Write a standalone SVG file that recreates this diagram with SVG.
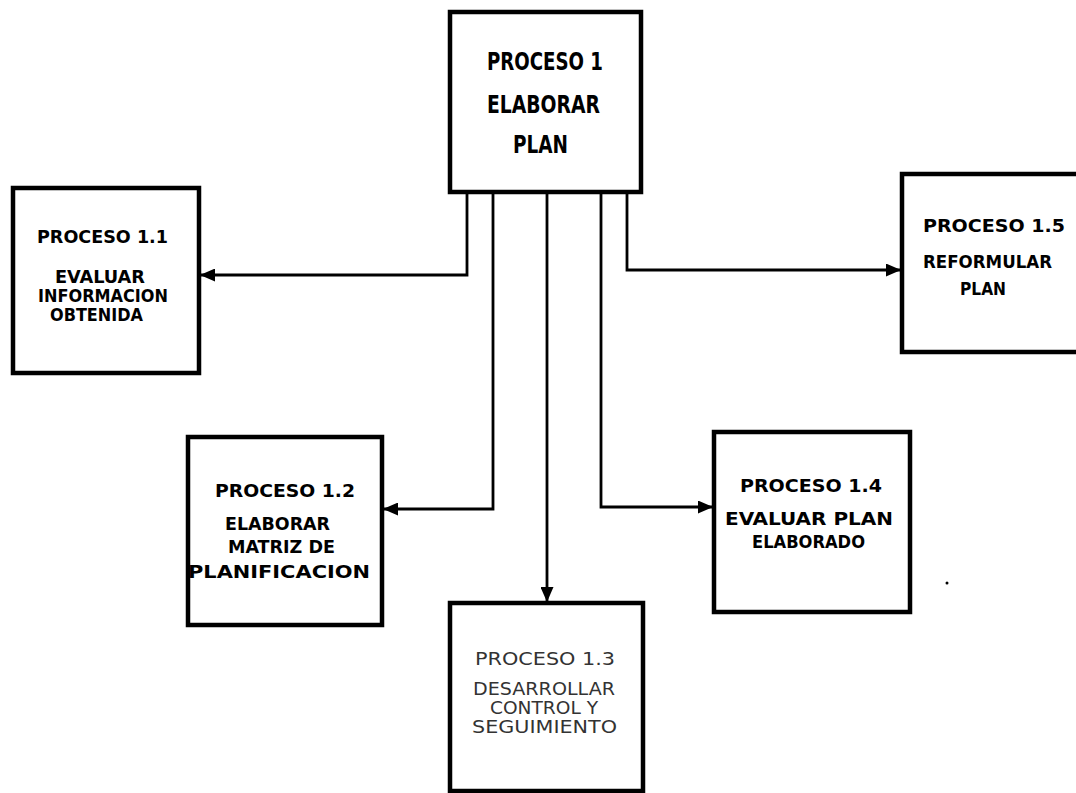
<svg xmlns="http://www.w3.org/2000/svg" width="1076" height="793" viewBox="0 0 1076 793">
<style>
.box{fill:#fff;stroke:#000;stroke-width:4.5}
.t{font-family:"DejaVu Sans Condensed","DejaVu Sans","Liberation Sans",sans-serif;font-weight:bold;font-size:18px;fill:#000}
.tb{font-size:24px}
.faded{fill:#333;font-weight:normal}
.c{fill:none;stroke:#000;stroke-width:2.8}
</style>
<defs>
<marker id="ah" markerUnits="userSpaceOnUse" markerWidth="15" markerHeight="13" refX="14" refY="6.5" orient="auto">
<path d="M0,0 L15,6.5 L0,13 z" fill="#000"/>
</marker>
</defs>
<rect width="1076" height="793" fill="#fff"/>
<g id="connectors">
<path class="c" d="M467,192 V275 H201" marker-end="url(#ah)"/>
<path class="c" d="M493,192 V509 H384" marker-end="url(#ah)"/>
<path class="c" d="M547,192 V601" stroke-width="2.2" marker-end="url(#ah)"/>
<path class="c" d="M601,192 V507 H712" marker-end="url(#ah)"/>
<path class="c" d="M627,192 V270 H900" marker-end="url(#ah)"/>
</g>
<g id="p1">
<rect class="box" x="450" y="12" width="191" height="180"/>
<text class="t tb" x="487" y="70" textLength="116" lengthAdjust="spacingAndGlyphs">PROCESO 1</text>
<text class="t tb" x="487" y="113" textLength="113" lengthAdjust="spacingAndGlyphs">ELABORAR</text>
<text class="t tb" x="513" y="153" textLength="55" lengthAdjust="spacingAndGlyphs">PLAN</text>
</g>
<g id="p1_1">
<rect class="box" x="13" y="188" width="186" height="185"/>
<text class="t" x="37" y="243" textLength="131" lengthAdjust="spacingAndGlyphs">PROCESO 1.1</text>
<text class="t" x="55" y="283" textLength="90" lengthAdjust="spacingAndGlyphs">EVALUAR</text>
<text class="t" x="38" y="302" textLength="130" lengthAdjust="spacingAndGlyphs">INFORMACION</text>
<text class="t" x="50" y="321" textLength="93" lengthAdjust="spacingAndGlyphs">OBTENIDA</text>
</g>
<g id="p1_5">
<rect class="box" x="902" y="174" width="180" height="178"/>
<text class="t" x="923" y="232" textLength="142" lengthAdjust="spacingAndGlyphs">PROCESO 1.5</text>
<text class="t" x="923" y="268" textLength="129" lengthAdjust="spacingAndGlyphs">REFORMULAR</text>
<text class="t" x="960" y="295" textLength="46" lengthAdjust="spacingAndGlyphs">PLAN</text>
</g>
<g id="p1_2">
<rect class="box" x="188" y="437" width="194" height="188"/>
<text class="t" x="215" y="497" textLength="140" lengthAdjust="spacingAndGlyphs">PROCESO 1.2</text>
<text class="t" x="225" y="530" textLength="105" lengthAdjust="spacingAndGlyphs">ELABORAR</text>
<text class="t" x="228" y="553" textLength="107" lengthAdjust="spacingAndGlyphs">MATRIZ DE</text>
<text class="t" x="188" y="578" textLength="182" lengthAdjust="spacingAndGlyphs">PLANIFICACION</text>
</g>
<g id="p1_4">
<rect class="box" x="714" y="432" width="196" height="180"/>
<text class="t" x="740" y="492" textLength="142" lengthAdjust="spacingAndGlyphs">PROCESO 1.4</text>
<text class="t" x="725" y="525" textLength="168" lengthAdjust="spacingAndGlyphs">EVALUAR PLAN</text>
<text class="t" x="752" y="548" textLength="113" lengthAdjust="spacingAndGlyphs">ELABORADO</text>
</g>
<g id="p1_3">
<rect class="box" x="450" y="603" width="193" height="188"/>
<text class="t faded" x="475" y="665" textLength="140" lengthAdjust="spacingAndGlyphs">PROCESO 1.3</text>
<text class="t faded" x="473" y="695" textLength="142" lengthAdjust="spacingAndGlyphs">DESARROLLAR</text>
<text class="t faded" x="490" y="714" textLength="108" lengthAdjust="spacingAndGlyphs">CONTROL Y</text>
<text class="t faded" x="472" y="733" textLength="145" lengthAdjust="spacingAndGlyphs">SEGUIMIENTO</text>
</g>
<circle cx="947" cy="583" r="1.5" fill="#000"/>
</svg>
